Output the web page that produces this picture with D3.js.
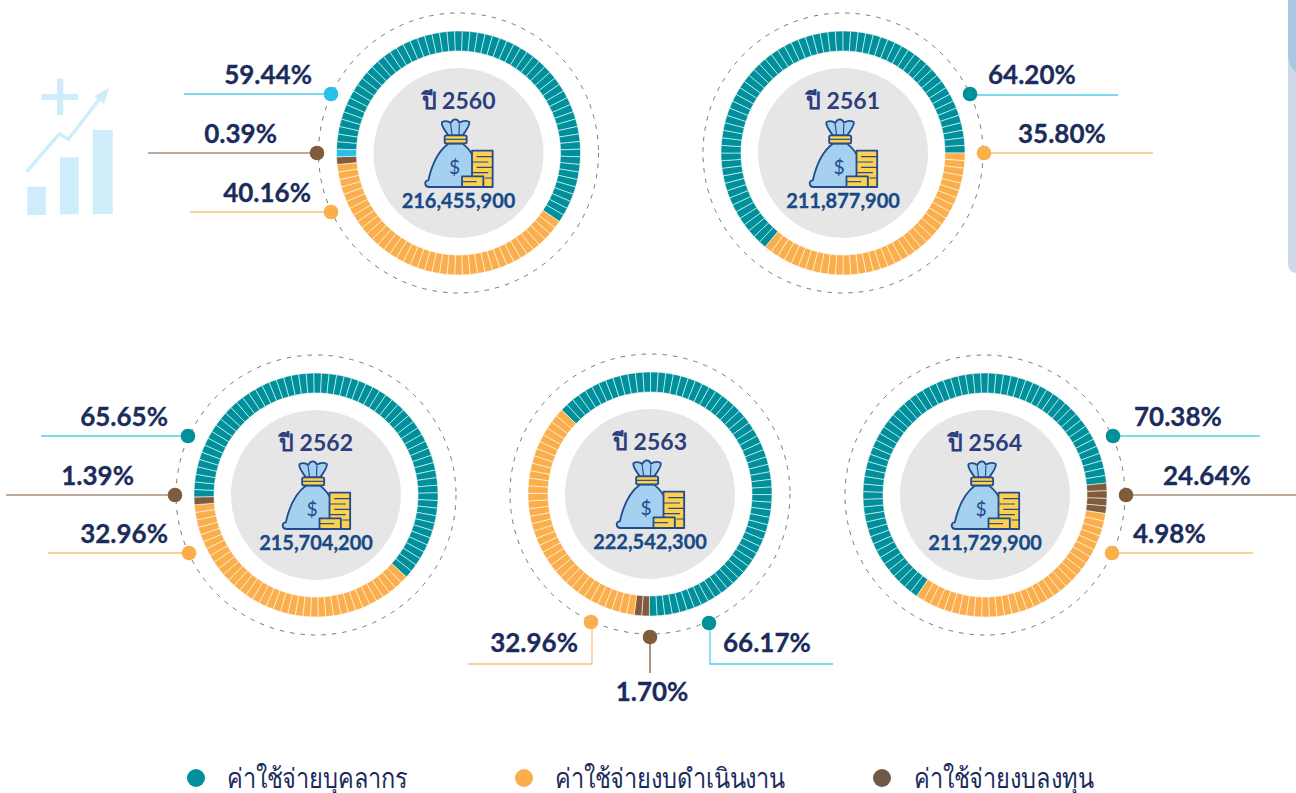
<!DOCTYPE html>
<html>
<head>
<meta charset="utf-8">
<script src="https://cdn.jsdelivr.net/npm/d3@7"></script>
<style>
  html, body { margin: 0; padding: 0; background: #fff; overflow: hidden; }
  svg { display: block; }
  text { font-family: Lato, "Noto Sans", sans-serif; }
</style>
</head>
<body>
<svg id="chart" width="1296" height="793"></svg>
<script>
const years = ["2560", "2561", "2562", "2563", "2564"];
const budgets = ["216,455,900", "211,877,900", "215,704,200", "222,542,300", "211,729,900"];

// percentages as printed next to each ring
const personnelPct = ["59.44%", "64.20%", "65.65%", "66.17%", "70.38%"];
const operatingPct = ["40.16%", "35.80%", "32.96%", "32.96%", "4.98%"];
const capitalPct = ["0.39%", null, "1.39%", "1.70%", "24.64%"];

// blocks in each ring, out of 100, counted off the picture
const personnelBlocks = [59, 64, 62, 63, 64];
const operatingBlocks = [39, 36, 37, 35, 32];
const capitalBlocks = [1, 0, 1, 2, 4];
const accentBlocks = [1, 0, 0, 0, 0];

// clockwise order of the blocks, and the angle where the first one starts
const ringOrder = [
  ["personnel", "operating", "capital", "accent"],
  ["personnel", "operating"],
  ["personnel", "operating", "capital"],
  ["personnel", "capital", "operating"],
  ["personnel", "capital", "operating"]
];
const ringStart = [271.8, 219.6, 269, 313.5, 214];

const legendKeys = ["personnel", "operating", "capital"];
const legendLabels = ["ค่าใช้จ่ายบุคลากร", "ค่าใช้จ่ายงบดำเนินงาน", "ค่าใช้จ่ายงบลงทุน"];

const centers = [[458.5, 153], [843, 153], [316, 495], [650, 494], [985, 495]];

const colors = {
  personnel: "#00909b",
  operating: "#fbae4c",
  capital: "#815c3c",
  accent: "#29bfe6"
};
const lineColors = { personnel: "#4fd0ea", operating: "#fbbd76", capital: "#a88f7a" };
const legendColors = { personnel: "#00909b", operating: "#fbae4c", capital: "#6f5a4a" };

// dot, leader line and label place for every callout
const callouts = [
  { personnel: { dot: [331, 94], line: [[331, 94], [184, 94]], text: [312, 75, "end"], dotColor: "#29bfe6" },
    capital: { dot: [317, 153], line: [[317, 153], [148, 153]], text: [277, 134, "end"] },
    operating: { dot: [331, 212], line: [[331, 212], [190, 212]], text: [311, 193, "end"] } },
  { personnel: { dot: [970, 94], line: [[970, 95], [1118, 95]], text: [988, 75, "start"] },
    operating: { dot: [984, 153], line: [[984, 153], [1153, 153]], text: [1018, 134, "start"] } },
  { personnel: { dot: [188, 436], line: [[188, 436], [41, 436]], text: [168, 417, "end"] },
    capital: { dot: [175, 495], line: [[175, 495], [6, 495]], text: [134, 476, "end"] },
    operating: { dot: [189, 553], line: [[189, 553], [48, 553]], text: [168, 534, "end"] } },
  { personnel: { dot: [709, 623], line: [[710, 623], [710, 664], [833, 664]], text: [723, 643, "start"] },
    capital: { dot: [650, 637], line: [[650, 637], [650, 673]], text: [652, 692, "middle"], lineColor: "#815c3c" },
    operating: { dot: [591, 622], line: [[592, 622], [592, 664], [468, 664]], text: [578, 643, "end"] } },
  { personnel: { dot: [1113, 436], line: [[1113, 436], [1260, 436]], text: [1134, 417, "start"] },
    capital: { dot: [1126, 495], line: [[1126, 495], [1296, 495]], text: [1163, 476, "start"] },
    operating: { dot: [1112, 553], line: [[1112, 553], [1253, 553]], text: [1133, 534, "start"] } }
];

const blocksBySeries = {
  personnel: personnelBlocks,
  operating: operatingBlocks,
  capital: capitalBlocks,
  accent: accentBlocks
};
const pctBySeries = { personnel: personnelPct, operating: operatingPct, capital: capitalPct };

const svg = d3.select("#chart");
const navy = "#1b2c5c";

// side tab at the right edge
svg.append("path")
  .attr("d", "M1288 0V262Q1288 273 1296 273V0Z")
  .attr("fill", "#cdd9e8");
svg.append("path")
  .attr("d", "M1288 0V54Q1288 66 1296 72V0Z")
  .attr("fill", "#a9c7e2");

// faded growth icon, top left
const growth = svg.append("g")
  .attr("transform", "translate(0,60) scale(0.3333)")
  .attr("fill", "#cfecfa");
growth.append("rect").attr("x", 82).attr("y", 380).attr("width", 56).attr("height", 85);
growth.append("rect").attr("x", 180).attr("y", 292).attr("width", 56).attr("height", 171);
growth.append("rect").attr("x", 278).attr("y", 210).attr("width", 60).attr("height", 252);
growth.append("rect").attr("x", 125).attr("y", 102).attr("width", 109).attr("height", 18);
growth.append("rect").attr("x", 171).attr("y", 56).attr("width", 19).attr("height", 109);
growth.append("path")
  .attr("d", "M80 335L178 222L205 238L298 118")
  .attr("fill", "none")
  .attr("stroke", "#cfecfa")
  .attr("stroke-width", 10);
growth.append("path").attr("d", "M282 108L327 84L312 132Z");

function drawBag(g) {
  const stroke = "#234b8e";
  const bag = g.append("g")
    .attr("transform", "translate(-38.5,-41) scale(0.3333)")
    .attr("stroke", stroke)
    .attr("stroke-width", 5.5)
    .attr("stroke-linejoin", "round");

  bag.append("path")
    .attr("d", "M85 95L128 95C146 110 156 122 160 137L166 225L28 225C12 225 12 205 25 205C35 160 50 120 85 95Z")
    .attr("fill", "#a6d0f0");
  bag.append("path")
    .attr("d", "M85 70C76 56 62 42 66 30C78 25 86 28 92 33C100 20 112 18 118 32C128 26 140 26 148 30C150 42 136 58 128 70Z")
    .attr("fill", "#a6d0f0");
  bag.append("path")
    .attr("d", "M96 68L92 36M117 68L118 36")
    .attr("fill", "none")
    .attr("stroke-width", 3.5);
  bag.append("rect")
    .attr("x", 74).attr("y", 70).attr("width", 66).attr("height", 24).attr("rx", 5)
    .attr("fill", "#fdd14d");
  bag.append("path").attr("d", "M74 82H140").attr("stroke-width", 3.5);
  bag.append("rect")
    .attr("x", 156).attr("y", 116).attr("width", 62).attr("height", 109)
    .attr("fill", "#fdd14d");
  bag.append("path")
    .attr("d", "M170 134H218M156 150H205M170 166H218M156 182H205M195 198H218")
    .attr("fill", "none")
    .attr("stroke-width", 3.5);
  bag.append("rect")
    .attr("x", 126).attr("y", 193).attr("width", 64).attr("height", 32)
    .attr("fill", "#fdd14d");
  bag.append("path").attr("d", "M126 209H170").attr("stroke-width", 3.5);
  bag.append("text")
    .attr("x", 104).attr("y", 185)
    .attr("text-anchor", "middle")
    .attr("font-size", 58)
    .attr("stroke", "none")
    .attr("fill", stroke)
    .text("$");
}

// one block out of 100 is 3.6 degrees
const angle = d3.scaleLinear().domain([0, 100]);
const blockArc = d3.arc().innerRadius(102).outerRadius(122);

years.forEach((year, i) => {
  const g = svg.append("g").attr("transform", `translate(${centers[i]})`);

  g.append("circle")
    .attr("r", 140)
    .attr("fill", "none")
    .attr("stroke", "#6a6a6a")
    .attr("stroke-width", 0.9)
    .attr("stroke-dasharray", "4.5 6");

  g.append("circle").attr("r", 85).attr("fill", "#e6e6e6");

  const start = ringStart[i] * Math.PI / 180;
  angle.range([start, start + 2 * Math.PI]);

  const blocks = ringOrder[i].flatMap(key => d3.range(blocksBySeries[key][i]).map(() => key));

  g.selectAll(".block")
    .data(blocks)
    .enter()
    .append("path")
    .attr("class", "block")
    .attr("d", (d, k) => blockArc({ startAngle: angle(k), endAngle: angle(k + 1) }))
    .attr("fill", d => colors[d])
    .attr("stroke", "#fff")
    .attr("stroke-width", 0.55);

  g.append("text")
    .attr("y", -52.5)
    .attr("dy", "0.35em")
    .attr("text-anchor", "middle")
    .attr("font-size", 23)
    .attr("font-weight", 700)
    .attr("fill", "#2c3e7e")
    .text(`ปี ${year}`);

  drawBag(g);

  g.append("text")
    .attr("y", 48)
    .attr("dy", "0.35em")
    .attr("text-anchor", "middle")
    .attr("font-size", 20)
    .attr("font-weight", 700)
    .attr("fill", "#174a87")
    .attr("stroke", "#174a87")
    .attr("stroke-width", 0.3)
    .text(budgets[i]);

  // callouts
  Object.entries(callouts[i]).forEach(([key, c]) => {
    svg.append("path")
      .attr("d", d3.line()(c.line))
      .attr("fill", "none")
      .attr("stroke", c.lineColor || lineColors[key])
      .attr("stroke-width", 1.3);
    svg.append("circle")
      .attr("cx", c.dot[0])
      .attr("cy", c.dot[1])
      .attr("r", 7.3)
      .attr("fill", c.dotColor || colors[key]);
    svg.append("text")
      .attr("x", c.text[0])
      .attr("y", c.text[1])
      .attr("dy", "0.33em")
      .attr("text-anchor", c.text[2])
      .attr("font-size", 26)
      .attr("font-weight", 700)
      .attr("fill", navy)
      .attr("stroke", navy)
      .attr("stroke-width", 0.3)
      .text(pctBySeries[key][i]);
  });
});

// legend, the Thai face here is wider than the original one
const legendDotX = [196, 524, 882];
const legendTextX = [227, 555, 914];
legendKeys.forEach((key, i) => {
  svg.append("circle")
    .attr("cx", legendDotX[i])
    .attr("cy", 778)
    .attr("r", 9)
    .attr("fill", legendColors[key]);
  svg.append("text")
    .attr("transform", `translate(${legendTextX[i]},778) scale(0.906,1.05)`)
    .attr("dy", "0.35em")
    .attr("font-size", 26)
    .attr("fill", navy)
    .text(legendLabels[i]);
});
</script>
</body>
</html>
